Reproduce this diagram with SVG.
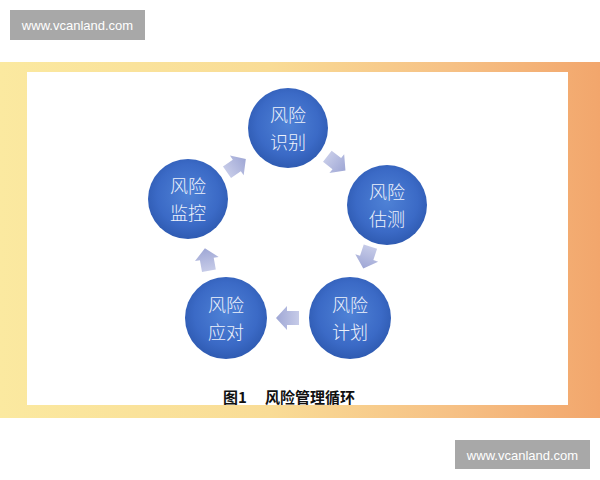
<svg xmlns="http://www.w3.org/2000/svg" width="600" height="480" viewBox="0 0 600 480">
<defs>
<linearGradient id="frame" x1="0" y1="0" x2="1" y2="0">
<stop offset="0" stop-color="#fbe9a0"/>
<stop offset="0.45" stop-color="#f9dc96"/>
<stop offset="0.75" stop-color="#f6c185"/>
<stop offset="1" stop-color="#f2a66c"/>
</linearGradient>
<radialGradient id="ball" cx="50%" cy="45%" r="55%">
<stop offset="0" stop-color="#4f82d6"/>
<stop offset="0.7" stop-color="#3b6ac6"/>
<stop offset="1" stop-color="#2f5bb2"/>
</radialGradient>
<linearGradient id="arr" x1="0" y1="0" x2="1" y2="0">
<stop offset="0" stop-color="#c6cbe8"/>
<stop offset="1" stop-color="#9fa7d5"/>
</linearGradient>
<path id="arrow" d="M-11,-7 L1,-7 L1,-12 L12,0 L1,12 L1,7 L-11,7 Z" fill="url(#arr)"/>
</defs>
<style>
.node circle{fill:url(#ball);}
.node text{font-family:"Noto Sans CJK SC","Noto Sans",sans-serif;font-size:18px;font-weight:300;fill:#eef2fb;text-anchor:middle;}
.wm rect{fill:#a8a8a8;}
.wm text{font-family:"Liberation Sans",Arial,sans-serif;font-size:13px;fill:#ffffff;text-anchor:middle;}
.cap{font-family:"Noto Sans CJK SC",sans-serif;font-size:15px;font-weight:bold;fill:#111111;}
</style>
<rect width="600" height="480" fill="#ffffff"/>
<rect x="0" y="62" width="600" height="356" fill="url(#frame)"/>
<rect x="27" y="72" width="541" height="333" fill="#ffffff"/>
<g id="wm-top" class="wm"><rect x="10" y="10" width="135" height="30"/><text x="77.5" y="30">www.vcanland.com</text></g>
<g id="wm-bottom" class="wm"><rect x="455" y="440" width="135" height="29"/><text x="522.5" y="460">www.vcanland.com</text></g>
<g id="connectors">
<use href="#arrow" transform="translate(236,166) rotate(-35)"/>
<use href="#arrow" transform="translate(336,163) rotate(38)"/>
<use href="#arrow" transform="translate(367,257) rotate(108)"/>
<use href="#arrow" transform="translate(288,318) rotate(180)"/>
<use href="#arrow" transform="translate(207,260) rotate(-100)"/>
</g>
<g id="n-identify" class="node"><circle cx="288" cy="128" r="40"/><text x="288" y="122">风险</text><text x="288" y="149">识别</text></g>
<g id="n-estimate" class="node"><circle cx="387" cy="205" r="40"/><text x="387" y="199">风险</text><text x="387" y="226">估测</text></g>
<g id="n-plan" class="node"><circle cx="350" cy="318" r="41"/><text x="350" y="312">风险</text><text x="350" y="339">计划</text></g>
<g id="n-respond" class="node"><circle cx="226" cy="318" r="41"/><text x="226" y="312">风险</text><text x="226" y="339">应对</text></g>
<g id="n-monitor" class="node"><circle cx="188" cy="199" r="40"/><text x="188" y="193">风险</text><text x="188" y="220">监控</text></g>
<g id="caption"><text class="cap" x="223" y="403">图1</text><text class="cap" x="265" y="403">风险管理循环</text></g>
</svg>
